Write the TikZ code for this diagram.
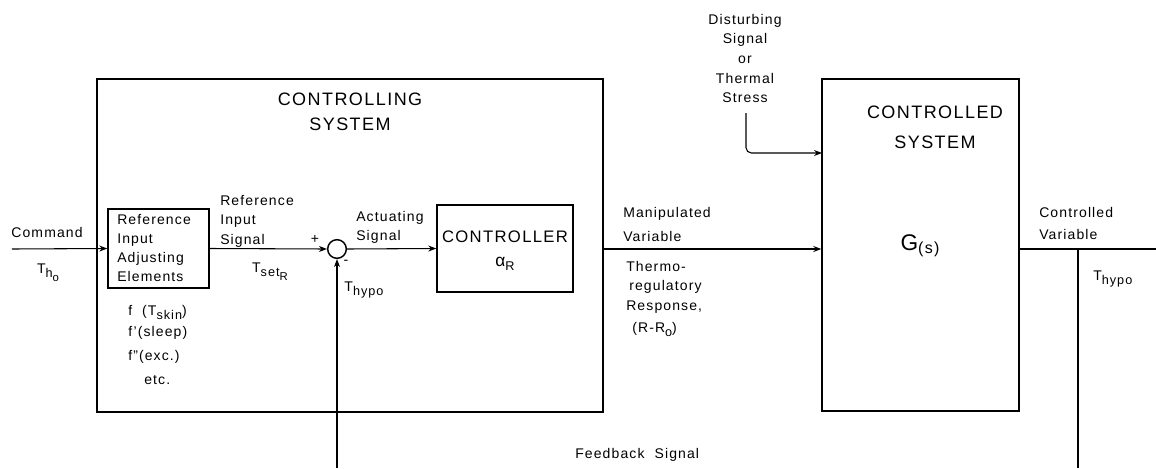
\documentclass[tikz,border=0pt]{standalone}
\usepackage{fontspec}
\setmainfont{Liberation Sans}[LetterSpace=8]
\usetikzlibrary{arrows.meta,fit}
\newcommand\sbs[1]{\raisebox{-3pt}{\fontsize{9.5}{10}\selectfont #1}}
\newcommand\ssbs[1]{\raisebox{-3pt}{\fontsize{8.5}{9}\selectfont #1}}
\tikzset{
  lbl/.style={font=\fontsize{10.5}{14.3}\selectfont, inner sep=0, align=left},
  clbl/.style={font=\fontsize{10.5}{14.8}\selectfont, inner sep=0, align=center},
  ttl/.style={font=\fontsize{13.5}{19}\selectfont, inner sep=0, align=center},
  blk/.style={draw, line width=1.1pt, inner sep=0},
  sig/.style={line width=0.8pt},
  arr/.style={sig, -{Stealth[length=6pt,width=4.5pt]}},
}
\begin{document}
\begin{tikzpicture}[x=0.75pt,y=-0.75pt]
\useasboundingbox (0,0) rectangle (1156,468);
% blocks
\node[blk, fit={(97,79)(603,412)}] (csys) {};
\node[blk, fit={(822,79)(1019,411)}] (plant) {};
\node[blk, fit={(108,209)(209,288)}] (ref) {};
\node[blk, fit={(437,205)(573,292)}] (ctrl) {};
\node[circle, draw, line width=1.1pt, minimum size=14pt, inner sep=0] (sum) at (337,249) {};
% coordinates
\coordinate (cmd) at (12,249);
\coordinate (csysout) at (603,249);
\coordinate (out) at (1156,249);
\coordinate (fbtop) at (1078,249);
\coordinate (fbbot) at (1078,468);
\coordinate (fbin) at (337,468);
\coordinate (dist) at (746,113);
\coordinate (distin) at (822,153);
% connectors
\draw[arr] (cmd) -- (ref.west);
\draw[arr] (ref.east) -- (sum.west);
\draw[arr] (sum.east) -- (ctrl.west);
\draw[arr] (csysout) -- (plant.west |- csysout);
\draw[sig] (plant.east |- out) -- (out);
\draw[sig] (fbtop) -- (fbbot);
\draw[arr] (fbin) -- (sum.south);
\draw[arr, rounded corners=4pt] (dist) |- (distin);
% titles
\node[ttl] (t1) at (350,112) {CONTROLLING\\SYSTEM};
\node[ttl, font=\fontsize{13.5}{22.5}\selectfont] (t2) at (935,127) {CONTROLLED\\SYSTEM};
\node[font=\fontsize{17}{19}\selectfont, inner sep=0] (gs) at (920,246) {G\raisebox{-0.25ex}{\fontsize{12}{14}\selectfont(s)}};
\node[font=\fontsize{12.5}{17}\selectfont, inner sep=0, align=center] (ctl) at (505,251) {CONTROLLER\\[1pt]\fontsize{13}{15}\selectfont α\sbs{R}};
\node[lbl, anchor=west] (reft) at (117,248) {Reference\\Input\\Adjusting\\Elements};
% labels
\node[lbl] (l1) at (47,232) {Command};
\node[lbl] (l2) at (48,273) {T\sbs{h\ssbs{o}}};
\node[lbl, anchor=west, font=\fontsize{10.5}{14.6}\selectfont] (l3) at (220,221) {Reference\\Input\\Signal};
\node[lbl] (l4) at (270,272) {T\sbs{set\ssbs{R}}};
\node[lbl] (l5) at (315,239) {+};
\node[lbl] (l6) at (346,262) {-};
\node[lbl] (l7) at (364,290) {T\sbs{hypo}};
\node[lbl, anchor=west, font=\fontsize{10.5}{14.3}\selectfont] (l8) at (356,227) {Actuating\\Signal};
\node[lbl, anchor=west, font=\fontsize{10.5}{18}\selectfont] (l9) at (623,224) {Manipulated\\Variable};
\node[lbl, anchor=west] (l10) at (626,266) {Thermo-};
\node[lbl, anchor=west] (l11) at (629,287) {regulatory};
\node[lbl, anchor=west] (l12) at (626,307) {Response,};
\node[lbl, anchor=west] (l13) at (632,329) {(R-R\sbs{o})};
\node[clbl] (l14) at (745,58.5) {Disturbing\\Signal\\or\\Thermal\\Stress};
\node[lbl, anchor=west, font=\fontsize{10.5}{16.5}\selectfont] (l15) at (1039,223) {Controlled\\Variable};
\node[lbl, anchor=west] (l16) at (1093,279) {T\sbs{hypo}};
\node[lbl, anchor=west] (l17) at (575,455) {Feedback\ \ Signal};
\node[lbl, anchor=west] (l18) at (128,312) {f\ \ (T\sbs{skin})};
\node[lbl, anchor=west] (l19) at (128,333) {f'(sleep)};
\node[lbl, anchor=west] (l20) at (128,357) {f"(exc.)};
\node[lbl, anchor=west] (l21) at (144,380) {etc.};
\end{tikzpicture}
\end{document}
